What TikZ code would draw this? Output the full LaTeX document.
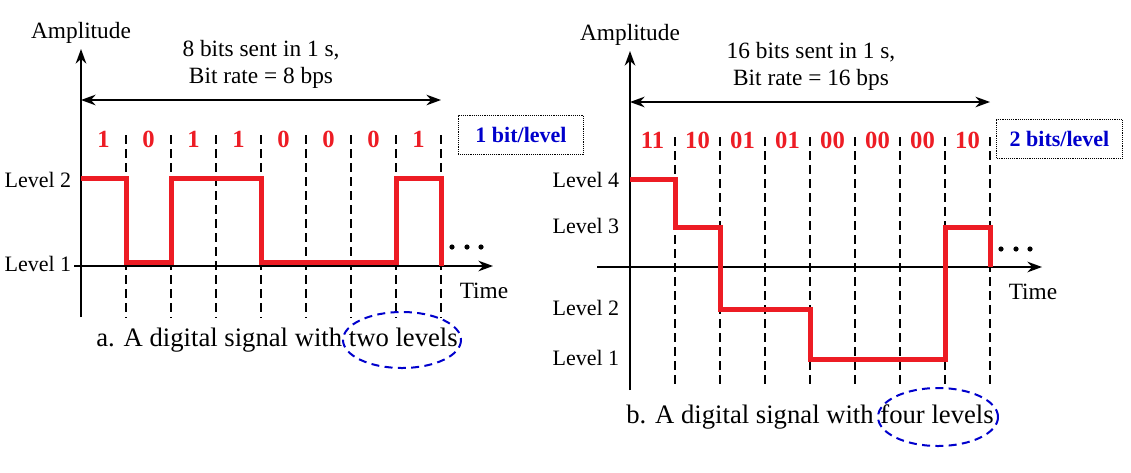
\documentclass[tikz,border=0pt]{standalone}
\usepackage{fontspec}
\setmainfont{Liberation Serif}
\usepackage{tikz}
\usetikzlibrary{arrows.meta}
\tikzset{every picture/.style={line width=0.75pt}}
\definecolor{sigred}{RGB}{237,28,36}
\definecolor{lvlblue}{RGB}{0,0,204}
\tikzset{
  axisline/.style={line width=1.1pt, -{Stealth[length=11pt,width=8pt]}},
  spanline/.style={line width=0.9pt, {Stealth[length=11pt,width=8pt]}-{Stealth[length=11pt,width=8pt]}},
  bitline/.style={line width=0.9pt, dash pattern={on 6.5pt off 4pt}},
  signal/.style={color=sigred, line width=3.75pt, line join=miter},
  lvl/.style={font=\fontsize{16.5}{18}\selectfont, anchor=east, inner xsep=1pt},
  bitlbl/.style={font=\fontsize{18.5}{20}\selectfont\bfseries, text=sigred},
  infobox/.style={draw, line width=0.6pt, dash pattern={on 0.7pt off 0.7pt}, minimum width=94pt, minimum height=29pt, font=\fontsize{16.5}{18}\selectfont\bfseries, text=lvlblue},
  caption/.style={font=\fontsize{20}{22}\selectfont},
  plain/.style={font=\fontsize{17.5}{19}\selectfont},
  ring/.style={color=lvlblue, line width=1.5pt, dash pattern={on 6pt off 4pt}}
}

\begin{document}
\begin{tikzpicture}[x=0.75pt,y=0.75pt,yscale=-1,xscale=1]
		\useasboundingbox (0,0) rectangle (1131,472);
		
		%%%%%%%% a. two levels
		
		%Straight Lines (bit borders)
		\draw [bitline]  (126,135) -- (126,318) ;
		\draw [bitline]  (171,135) -- (171,318) ;
		\draw [bitline]  (216,135) -- (216,318) ;
		\draw [bitline]  (261,135) -- (261,318) ;
		\draw [bitline]  (306,135) -- (306,318) ;
		\draw [bitline]  (351,135) -- (351,318) ;
		\draw [bitline]  (396,135) -- (396,318) ;
		\draw [bitline]  (441,135) -- (441,318) ;
		
		%Axes
		\draw [axisline]  (81,317) -- (81,49) ;
		\draw [axisline]  (74,266) -- (493,266) ;
		\draw [spanline]  (81,100) -- (441,100) ;
		
		%Signal
		\draw [signal]  (81,178) -- (126,178) -- (126,262) -- (171,262) -- (171,178) -- (261,178) -- (261,262) -- (396,262) -- (396,178) -- (441,178) -- (441,266) ;
		
		%Dots
		\fill (452,247) circle (2.6) (467,247) circle (2.6) (481,247) circle (2.6) ;
		
		% Text Node
		\node [plain] (ampA) at (81,33) {Amplitude};
		\node [plain] (sentA) at (261,50) {8 bits sent in 1 s,};
		\node [plain] (rateA) at (261,78) {Bit rate = 8 bps};
		\node [plain] (timeA) at (484,291) {Time};
		\node [lvl] (lvlAtwo) at (73,180) {Level 2};
		\node [lvl] (lvlAone) at (73,264) {Level 1};
		\node [bitlbl] (bA1) at (103.5,139) {1};
		\node [bitlbl] (bA2) at (148.5,139) {0};
		\node [bitlbl] (bA3) at (193.5,139) {1};
		\node [bitlbl] (bA4) at (238.5,139) {1};
		\node [bitlbl] (bA5) at (283.5,139) {0};
		\node [bitlbl] (bA6) at (328.5,139) {0};
		\node [bitlbl] (bA7) at (373.5,139) {0};
		\node [bitlbl] (bA8) at (418.5,139) {1};
		\node [infobox] (boxA) at (521,135) {1 bit/level};
		\node [caption] (capA) at (277,340) {a. A digital signal with two levels};
		
		%Ellipse
		\draw [ring]  (402,340) ellipse (59 and 28) ;
		
		%%%%%%%% b. four levels
		
		%Straight Lines (bit borders)
		\draw [bitline]  (675,137) -- (675,385) ;
		\draw [bitline]  (720,137) -- (720,385) ;
		\draw [bitline]  (765,137) -- (765,385) ;
		\draw [bitline]  (810,137) -- (810,385) ;
		\draw [bitline]  (855,137) -- (855,385) ;
		\draw [bitline]  (900,137) -- (900,385) ;
		\draw [bitline]  (945,137) -- (945,385) ;
		\draw [bitline]  (990,137) -- (990,385) ;
		
		%Axes
		\draw [axisline]  (630,390) -- (630,51) ;
		\draw [axisline]  (597,267) -- (1042,267) ;
		\draw [spanline]  (630,102) -- (990,102) ;
		
		%Signal
		\draw [signal]  (630,179) -- (675,179) -- (675,227) -- (720,227) -- (720,309) -- (810,309) -- (810,359) -- (945,359) -- (945,227) -- (990,227) -- (990,267) ;
		
		%Dots
		\fill (1001,249) circle (2.6) (1016,249) circle (2.6) (1030,249) circle (2.6) ;
		
		% Text Node
		\node [plain] (ampB) at (630,35) {Amplitude};
		\node [plain] (sentB) at (811,52) {16 bits sent in 1 s,};
		\node [plain] (rateB) at (811,80) {Bit rate = 16 bps};
		\node [plain] (timeB) at (1033,292) {Time};
		\node [lvl] (lvlBfour) at (621,180) {Level 4};
		\node [lvl] (lvlBthree) at (621,226) {Level 3};
		\node [lvl] (lvlBtwo) at (621,308) {Level 2};
		\node [lvl] (lvlBone) at (621,358) {Level 1};
		\node [bitlbl] (bB1) at (652.5,140) {11};
		\node [bitlbl] (bB2) at (697.5,140) {10};
		\node [bitlbl] (bB3) at (742.5,140) {01};
		\node [bitlbl] (bB4) at (787.5,140) {01};
		\node [bitlbl] (bB5) at (832.5,140) {00};
		\node [bitlbl] (bB6) at (877.5,140) {00};
		\node [bitlbl] (bB7) at (922.5,140) {00};
		\node [bitlbl] (bB8) at (967.5,140) {10};
		\node [infobox] (boxB) at (1059.5,139) {2 bits/level};
		\node [caption] (capB) at (810,417) {b. A digital signal with four levels};
		
		%Ellipse
		\draw [ring]  (938,417) ellipse (60 and 29) ;
		
\end{tikzpicture}
\end{document}
